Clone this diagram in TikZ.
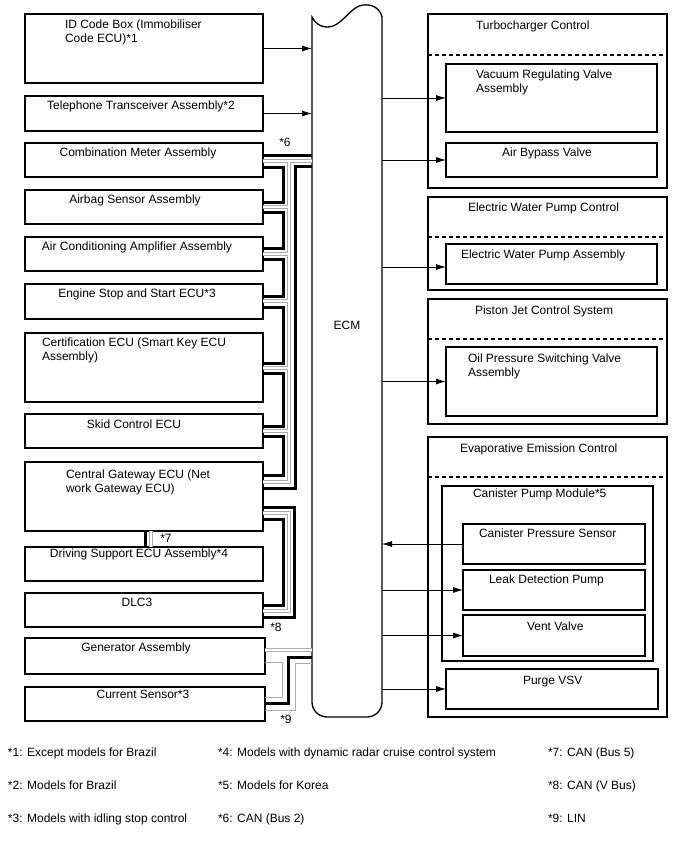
\documentclass[tikz,border=0pt]{standalone}
\usepackage{fontspec}
\setmainfont{Liberation Sans}
\usetikzlibrary{arrows.meta,calc}
\newcommand\twol[2]{\begin{tabular}[t]{@{}l@{}}#1\\#2\end{tabular}}
\newcommand\mybox[5]{\node[box, minimum width={(#4-#2)*1pt}, minimum height={(#5-#3)*1pt}] (#1) at ({(#2+#4)/2},{(#3+#5)/2}) {};}
\begin{document}
\begin{tikzpicture}[x=1pt,y=-1pt,
  font=\fontsize{12}{14}\selectfont,
  box/.style={draw, line width=1.1pt, inner sep=0pt, outer sep=0pt},
  lbl/.style={inner sep=0pt, outer sep=0pt},
  arr/.style={line width=0.8pt, -{Latex[length=10pt,width=6pt]}},
  tk/.style={line width=3pt},
  tnA/.style={draw=gray!65, line width=3.4pt},
  tnB/.style={draw=white, line width=1.8pt},
  gs/.style={draw=gray!65, line width=0.9pt},
  dsh/.style={line width=1.1pt, dash pattern=on 4pt off 3pt}]
\useasboundingbox (0,0) rectangle (688,852);
\fill[white] (0,0) rectangle (688,852);

% ECM
\draw[line width=1.3pt] (312,17) -- (312,702) arc[start angle=180,end angle=270,radius=15pt]
  -- (367,717) arc[start angle=270,end angle=360,radius=15pt] -- (382,17)
  .. controls (380,8) and (372,4) .. (363,5)
  .. controls (352,6) and (344,22) .. (333,26)
  .. controls (324,29) and (316,25) .. (312,17) -- cycle;
\coordinate (ecmL) at (312,360);
\coordinate (ecmR) at (382,360);
\node[lbl, anchor=base] (ecm) at (347,329) {ECM};

% left boxes
\mybox{idc}{25}{14}{263}{83}
\mybox{tel}{25}{96}{263}{131}
\mybox{cm}{25}{143}{263}{177}
\mybox{air}{25}{190}{263}{224}
\mybox{ac}{25}{237}{263}{271}
\mybox{ess}{25}{284}{263}{319}
\mybox{cert}{25}{333}{263}{402}
\mybox{skid}{25}{414}{263}{448}
\mybox{gw}{25}{462}{263}{531}
\mybox{drv}{25}{547}{263}{581}
\mybox{dlc}{25}{593}{263}{627}
\mybox{gen}{25}{638}{265}{674}
\mybox{cs}{25}{687}{265}{721}

\node[lbl, anchor=base west] (t1) at (65,28) {\twol{ID Code Box (Immobiliser}{Code ECU)*1}};
\node[lbl, anchor=base] (t2) at (141,109) {Telephone Transceiver Assembly*2};
\node[lbl, anchor=base] (t3) at (138,156) {Combination Meter Assembly};
\node[lbl, anchor=base] (t4) at (135,203) {Airbag Sensor Assembly};
\node[lbl, anchor=base] (t5) at (137,250) {Air Conditioning Amplifier Assembly};
\node[lbl, anchor=base] (t6) at (137,297) {Engine Stop and Start ECU*3};
\node[lbl, anchor=base west] (t7) at (42,346) {\twol{Certification ECU (Smart Key ECU}{Assembly)}};
\node[lbl, anchor=base] (t8) at (134,428) {Skid Control ECU};
\node[lbl, anchor=base west] (t9) at (66,478) {\twol{Central Gateway ECU (Net}{work Gateway ECU)}};
\node[lbl, anchor=base] (t10) at (139,557) {Driving Support ECU Assembly*4};
\node[lbl, anchor=base] (t11) at (137,606) {DLC3};
\node[lbl, anchor=base] (t12) at (136,651) {Generator Assembly};
\node[lbl, anchor=base] (t13) at (143,698) {Current Sensor*3};

% right groups
\mybox{turbo}{428}{14}{667}{188}
\mybox{vac}{446}{64}{657}{132}
\mybox{abv}{446}{143}{657}{177}
\mybox{ewpg}{428}{197}{667}{290}
\mybox{ewp}{446}{244}{657}{284}
\mybox{pjc}{428}{299}{667}{424}
\mybox{oil}{446}{347}{657}{416}
\mybox{evap}{428}{437}{667}{717}
\mybox{cpm}{442}{486}{653}{661}
\mybox{cps}{463}{524}{645}{564}
\mybox{ldp}{463}{570}{645}{610}
\mybox{vv}{463}{615}{645}{656}
\mybox{pvsv}{446}{669}{658}{709}

\draw[dsh] (turbo.west |- 0,55) -- (turbo.east |- 0,55);
\draw[dsh] (ewpg.west |- 0,237) -- (ewpg.east |- 0,237);
\draw[dsh] (pjc.west |- 0,339) -- (pjc.east |- 0,339);
\draw[dsh] (evap.west |- 0,477) -- (evap.east |- 0,477);

\node[lbl, anchor=base west] (r1) at (476,29) {Turbocharger Control};
\node[lbl, anchor=base west] (r2) at (476,78) {\twol{Vacuum Regulating Valve}{Assembly}};
\node[lbl, anchor=base] (r3) at (547,156) {Air Bypass Valve};
\node[lbl, anchor=base west] (r4) at (468,211) {Electric Water Pump Control};
\node[lbl, anchor=base west] (r5) at (461,258) {Electric Water Pump Assembly};
\node[lbl, anchor=base west] (r6) at (475,314) {Piston Jet Control System};
\node[lbl, anchor=base west] (r7) at (468,362) {\twol{Oil Pressure Switching Valve}{Assembly}};
\node[lbl, anchor=base west] (r8) at (460,452) {Evaporative Emission Control};
\node[lbl, anchor=base west] (r9) at (473,497) {Canister Pump Module*5};
\node[lbl, anchor=base west] (r10) at (479,537) {Canister Pressure Sensor};
\node[lbl, anchor=base west] (r11) at (489,583) {Leak Detection Pump};
\node[lbl, anchor=base west] (r12) at (527,630) {Vent Valve};
\node[lbl, anchor=base west] (r13) at (523,684) {Purge VSV};

% arrows
\draw[arr] (idc.east) -- (ecmL |- idc.east);
\draw[arr] (tel.east) -- (ecmL |- tel.east);
\draw[arr] (ecmR |- vac.west) -- (vac.west);
\draw[arr] (ecmR |- abv.west) -- (abv.west);
\draw[arr] (ecmR |- 0,267) -- (ewp.west |- 0,267);
\draw[arr] (ecmR |- oil.west) -- (oil.west);
\draw[arr] (cps.west) -- (ecmR |- cps.west);
\draw[arr] (ecmR |- ldp.west) -- (ldp.west);
\draw[arr] (ecmR |- vv.west) -- (vv.west);
\draw[arr] (ecmR |- pvsv.west) -- (pvsv.west);

% thin (double) bus wires
\newcommand\thinbus[1]{%
  \draw[#1] (cm.east |- 0,161) -- (ecmL |- 0,161);
  \draw[#1] (gw.east |- 0,482) -| (289,161);
  \draw[#1] (air.east |- 0,207) -- (289,207);
  \draw[#1] (ac.east |- 0,254) -- (289,254);
  \draw[#1] (ess.east |- 0,301) -- (289,301);
  \draw[#1] (cert.east |- 0,368) -- (289,368);
  \draw[#1] (skid.east |- 0,431) -- (289,431);
  \draw[#1] (gw.east |- 0,513) -| (289,611) -- (dlc.east |- 0,611);
  \draw[#1] (gw.south -| 151,0) -- (drv.north -| 151,0);
  \draw[#1] (gen.east |- 0,650) -- (ecmL |- 0,650);
}
\thinbus{tnA}
\thinbus{tnB}

% CAN Bus 2 thick wire
\draw[tk] (cm.east |- 0,155) -- (ecmL |- 0,155);
\draw[tk] (gw.east |- 0,488) -| (295,166) -- (ecmL |- 0,166);
\draw[tk] (cm.east |- 0,167) -| (283,202) -- (air.east |- 0,202);
\draw[tk] (air.east |- 0,212) -| (283,248) -- (ac.east |- 0,248);
\draw[tk] (ac.east |- 0,259) -| (283,296) -- (ess.east |- 0,296);
\draw[tk] (ess.east |- 0,307) -| (283,363) -- (cert.east |- 0,363);
\draw[tk] (cert.east |- 0,373) -| (283,426) -- (skid.east |- 0,426);
\draw[tk] (skid.east |- 0,436) -| (283,475) -- (gw.east |- 0,475);
% CAN V bus
\draw[tk] (gw.east |- 0,507) -| (294,617) -- (dlc.east |- 0,617);
\draw[tk] (gw.east |- 0,519) -| (283,605) -- (dlc.east |- 0,605);
% CAN Bus 5
\draw[tk] (gw.south -| 145,0) -- (drv.north -| 145,0);
% LIN
\draw[tk] (ecmL |- 0,657) -| (288,703) -- (cs.east |- 0,703);
\draw[gs] (gen.east |- 0,662) -| (282,697) -- (cs.east |- 0,697);
\draw[gs] (ecmL |- 0,663) -| (295,710) -- (cs.east |- 0,710);

% bus labels
\node[lbl, anchor=base] (b6) at (285,146) {*6};
\node[lbl, anchor=base] (b7) at (166,542) {*7};
\node[lbl, anchor=base] (b8) at (276,631) {*8};
\node[lbl, anchor=base] (b9) at (286,723) {*9};

% footnotes
\node[lbl, anchor=base west] (f1) at (8,756) {*1: Except models for Brazil};
\node[lbl, anchor=base west] (f2) at (8,789) {*2: Models for Brazil};
\node[lbl, anchor=base west] (f3) at (8,822) {*3: Models with idling stop control};
\node[lbl, anchor=base west] (f4) at (218,756) {*4: Models with dynamic radar cruise control system};
\node[lbl, anchor=base west] (f5) at (218,789) {*5: Models for Korea};
\node[lbl, anchor=base west] (f6) at (218,822) {*6: CAN (Bus 2)};
\node[lbl, anchor=base west] (f7) at (548,756) {*7: CAN (Bus 5)};
\node[lbl, anchor=base west] (f8) at (548,789) {*8: CAN (V Bus)};
\node[lbl, anchor=base west] (f9) at (548,822) {*9: LIN};
\end{tikzpicture}
\end{document}
